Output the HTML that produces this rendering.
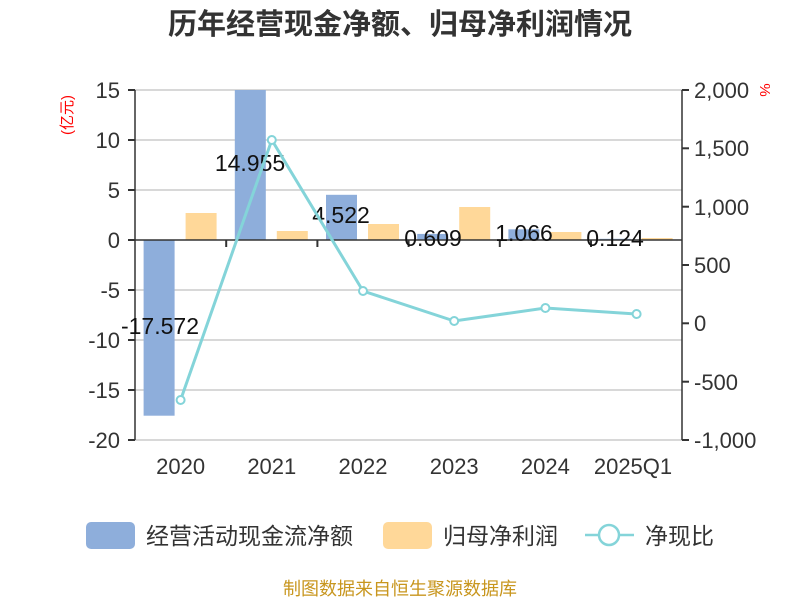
<!DOCTYPE html>
<html><head><meta charset="utf-8"><style>
body{margin:0;background:#fff;}
svg text{font-family:"Liberation Sans","Noto Sans CJK SC",sans-serif;}
</style></head><body>
<svg width="800" height="600" xmlns="http://www.w3.org/2000/svg">
<rect width="800" height="600" fill="#fff"/>
<text x="400" y="34" text-anchor="middle" font-size="29" font-weight="bold" fill="#333">历年经营现金净额、归母净利润情况</text>
<g stroke="#ccc" stroke-width="1.5">
<line x1="135" y1="90" x2="682" y2="90"/><line x1="135" y1="140" x2="682" y2="140"/>
<line x1="135" y1="190" x2="682" y2="190"/><line x1="135" y1="290" x2="682" y2="290"/>
<line x1="135" y1="340" x2="682" y2="340"/><line x1="135" y1="390" x2="682" y2="390"/>
<line x1="135" y1="440" x2="682" y2="440"/>
</g>
<g fill="#8eaedb">
<rect x="143.6" y="240" width="31" height="175.7"/>
<rect x="234.8" y="90" width="31" height="150"/>
<rect x="326" y="194.8" width="31" height="45.2"/>
<rect x="417.2" y="233.9" width="31" height="6.1"/>
<rect x="508.4" y="229.3" width="31" height="10.7"/>
<rect x="599.6" y="238.8" width="31" height="1.2"/>
</g>
<g fill="#ffd899">
<rect x="185.6" y="213" width="31" height="27"/>
<rect x="276.8" y="231" width="31" height="9"/>
<rect x="368" y="224" width="31" height="16"/>
<rect x="459.2" y="207" width="31" height="33"/>
<rect x="550.4" y="232" width="31" height="8"/>
<rect x="641.6" y="238" width="31" height="2"/>
</g>
<g stroke="#333" stroke-width="1.5">
<line x1="135" y1="90" x2="135" y2="440"/><line x1="682" y1="90" x2="682" y2="440"/>
<line x1="135" y1="240" x2="682" y2="240"/>
</g>
<g stroke="#333" stroke-width="2">
<line x1="128" y1="90" x2="135" y2="90"/><line x1="128" y1="140" x2="135" y2="140"/><line x1="128" y1="190" x2="135" y2="190"/><line x1="128" y1="240" x2="135" y2="240"/><line x1="128" y1="290" x2="135" y2="290"/><line x1="128" y1="340" x2="135" y2="340"/><line x1="128" y1="390" x2="135" y2="390"/><line x1="128" y1="440" x2="135" y2="440"/>
<line x1="682" y1="90" x2="689" y2="90"/><line x1="682" y1="148.3" x2="689" y2="148.3"/><line x1="682" y1="206.7" x2="689" y2="206.7"/><line x1="682" y1="265" x2="689" y2="265"/><line x1="682" y1="323.3" x2="689" y2="323.3"/><line x1="682" y1="381.7" x2="689" y2="381.7"/><line x1="682" y1="440" x2="689" y2="440"/>
<line x1="226.2" y1="240" x2="226.2" y2="247"/><line x1="317.4" y1="240" x2="317.4" y2="247"/><line x1="408.6" y1="240" x2="408.6" y2="247"/><line x1="499.8" y1="240" x2="499.8" y2="247"/><line x1="591" y1="240" x2="591" y2="247"/>
</g>
<g font-size="22" fill="#333" text-anchor="end">
<text x="120" y="98">15</text><text x="120" y="148">10</text><text x="120" y="198">5</text><text x="120" y="248">0</text><text x="120" y="298">-5</text><text x="120" y="348">-10</text><text x="120" y="398">-15</text><text x="120" y="448">-20</text>
</g>
<g font-size="22" fill="#333">
<text x="694" y="98">2,000</text><text x="694" y="156">1,500</text><text x="694" y="215">1,000</text><text x="694" y="273">500</text><text x="694" y="331">0</text><text x="694" y="390">-500</text><text x="694" y="448">-1,000</text>
</g>
<text x="760" y="90" font-size="15" fill="red" text-anchor="middle" transform="rotate(90 760 90)">%</text>
<text x="72" y="115" font-size="15" fill="red" text-anchor="middle" transform="rotate(-90 72 115)">(亿元)</text>
<g font-size="22" fill="#333" text-anchor="middle">
<text x="180.6" y="474">2020</text><text x="271.8" y="474">2021</text><text x="363" y="474">2022</text><text x="454.2" y="474">2023</text><text x="545.4" y="474">2024</text><text x="633" y="474">2025Q1</text>
</g>
<g font-size="23" fill="#111" text-anchor="middle">
<text x="160" y="334">-17.572</text><text x="250" y="171">14.955</text><text x="341" y="223">4.522</text><text x="433" y="246">0.609</text><text x="524" y="241">1.066</text><text x="615" y="246">0.124</text>
</g>
<polyline points="180.6,400 271.8,140 363,291 454.2,321 545.4,308 636.6,314" fill="none" stroke="#84d4d9" stroke-width="3"/>
<g fill="#fff" stroke="#84d4d9" stroke-width="2">
<circle cx="180.6" cy="400" r="4"/><circle cx="271.8" cy="140" r="4"/><circle cx="363" cy="291" r="4"/><circle cx="454.2" cy="321" r="4"/><circle cx="545.4" cy="308" r="4"/><circle cx="636.6" cy="314" r="4"/>
</g>
<rect x="86" y="522" width="49" height="27" rx="5" fill="#8eaedb"/>
<text x="146" y="544" font-size="23" fill="#333">经营活动现金流净额</text>
<rect x="383" y="522" width="49" height="27" rx="5" fill="#ffd899"/>
<text x="443" y="544" font-size="23" fill="#333">归母净利润</text>
<line x1="585" y1="535" x2="634" y2="535" stroke="#84d4d9" stroke-width="2.5"/>
<circle cx="609" cy="535" r="10" fill="#fff" stroke="#84d4d9" stroke-width="2.5"/>
<text x="645" y="544" font-size="23" fill="#333">净现比</text>
<text x="400" y="595" font-size="18" fill="#c8961e" text-anchor="middle">制图数据来自恒生聚源数据库</text>
</svg>
</body></html>
